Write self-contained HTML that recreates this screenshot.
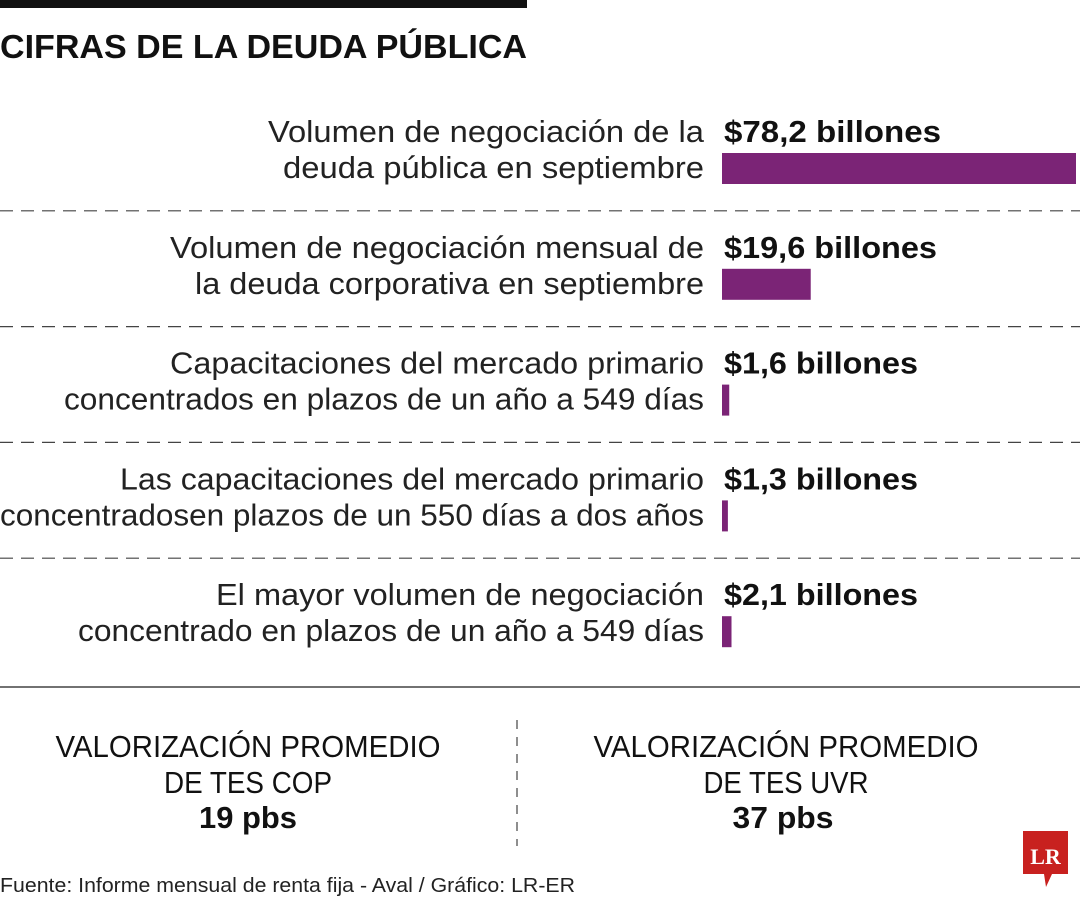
<!DOCTYPE html>
<html><head><meta charset="utf-8"><style>
html,body{margin:0;padding:0;background:#fff;}
svg{display:block;font-family:"Liberation Sans",sans-serif;}
</style></head><body>
<svg id="chart" width="1080" height="900" viewBox="0 0 1080 900" xmlns="http://www.w3.org/2000/svg">
<rect x="0" y="0" width="527" height="8" fill="#111"/>
<text x="0" y="58" font-size="33" font-weight="bold" fill="#111" textLength="527" lengthAdjust="spacingAndGlyphs">CIFRAS DE LA DEUDA PÚBLICA</text>
<g id="rows"></g>
<line x1="0" y1="687" x2="1080" y2="687" stroke="#444" stroke-width="1.5"/>
<line x1="517" y1="720" x2="517" y2="846" stroke="#444" stroke-width="1.2" stroke-dasharray="9,8"/>
<g fill="#111" text-anchor="middle">
<text x="248" y="757" font-size="31" textLength="385" lengthAdjust="spacingAndGlyphs">VALORIZACIÓN PROMEDIO</text>
<text x="248" y="793" font-size="31" textLength="168" lengthAdjust="spacingAndGlyphs">DE TES COP</text>
<text x="248" y="828" font-size="31" font-weight="bold" textLength="98" lengthAdjust="spacingAndGlyphs">19 pbs</text>
</g>
<g fill="#111" text-anchor="middle">
<text x="786" y="757" font-size="31" textLength="385" lengthAdjust="spacingAndGlyphs">VALORIZACIÓN PROMEDIO</text>
<text x="786" y="793" font-size="31" textLength="165" lengthAdjust="spacingAndGlyphs">DE TES UVR</text>
<text x="783" y="828" font-size="31" font-weight="bold" textLength="101" lengthAdjust="spacingAndGlyphs">37 pbs</text>
</g>
<text x="0" y="892" font-size="20" fill="#222" textLength="575" lengthAdjust="spacingAndGlyphs">Fuente: Informe mensual de renta fija - Aval / Gráfico: LR-ER</text>
<g>
<path d="M1023 831 H1068 V874 H1052 L1046 887 L1044 874 H1023 Z" fill="#c8211f"/>
<text x="1045.5" y="864" font-family="Liberation Serif,serif" font-weight="bold" font-size="22" fill="#fff" text-anchor="middle">LR</text>
</g>
</svg>
<script>
const labelsLine1 = ["Volumen de negociación de la","Volumen de negociación mensual de","Capacitaciones del mercado primario","Las capacitaciones del mercado primario","El mayor volumen de negociación"];
const labelsLine2 = ["deuda pública en septiembre","la deuda corporativa en septiembre","concentrados en plazos de un año a 549 días","concentradosen plazos de un 550 días a dos años","concentrado en plazos de un año a 549 días"];
const values = [78.2, 19.6, 1.6, 1.3, 2.1];
const valueLabels = ["$78,2 billones","$19,6 billones","$1,6 billones","$1,3 billones","$2,1 billones"];

// layout (text widths matched to reference typography)
const line1Widths = [436, 534, 534, 584, 488];
const line2Widths = [421, 509, 640, 704, 626];
const valueWidths = [217, 213, 194, 194, 194];

const NS = "http://www.w3.org/2000/svg";
const g = document.getElementById('rows');
const x0 = 722, xMax = 1076;
const maxV = Math.max(...values);
function xScale(v){ return (xMax - x0) * v / maxV; }
const rowTop = 95, rowH = 115.8;
function mk(tag, attrs){ const e=document.createElementNS(NS,tag); for(const k in attrs) e.setAttribute(k,attrs[k]); return e; }
values.forEach((v,i)=>{
  const y = rowTop + i*rowH;
  const t1 = mk('text',{x:704,y:y+47,'font-size':31,fill:'#222','text-anchor':'end',textLength:line1Widths[i],lengthAdjust:'spacingAndGlyphs'});
  
  
  t1.textContent = labelsLine1[i];
  g.appendChild(t1);
  const t2 = mk('text',{x:704,y:y+83,'font-size':31,fill:'#222','text-anchor':'end',textLength:line2Widths[i],lengthAdjust:'spacingAndGlyphs'});
  
  
  t2.textContent = labelsLine2[i];
  g.appendChild(t2);
  const vt = mk('text',{x:724,y:y+47,'font-size':31,'font-weight':'bold',fill:'#111',textLength:valueWidths[i],lengthAdjust:'spacingAndGlyphs'});
  
  
  vt.textContent = valueLabels[i];
  g.appendChild(vt);
  const b = mk('rect',{x:x0,y:y+58,width:Math.max(xScale(v),1),height:31,fill:'#7b2476'});
  
  
  g.appendChild(b);
  if(i<values.length-1){
    const l = mk('line',{x1:0,x2:1080,y1:y+rowH,y2:y+rowH,stroke:'#444','stroke-width':1.2,'stroke-dasharray':'13,8'});
    
    
    g.appendChild(l);
  }
});
</script>
</body></html>
